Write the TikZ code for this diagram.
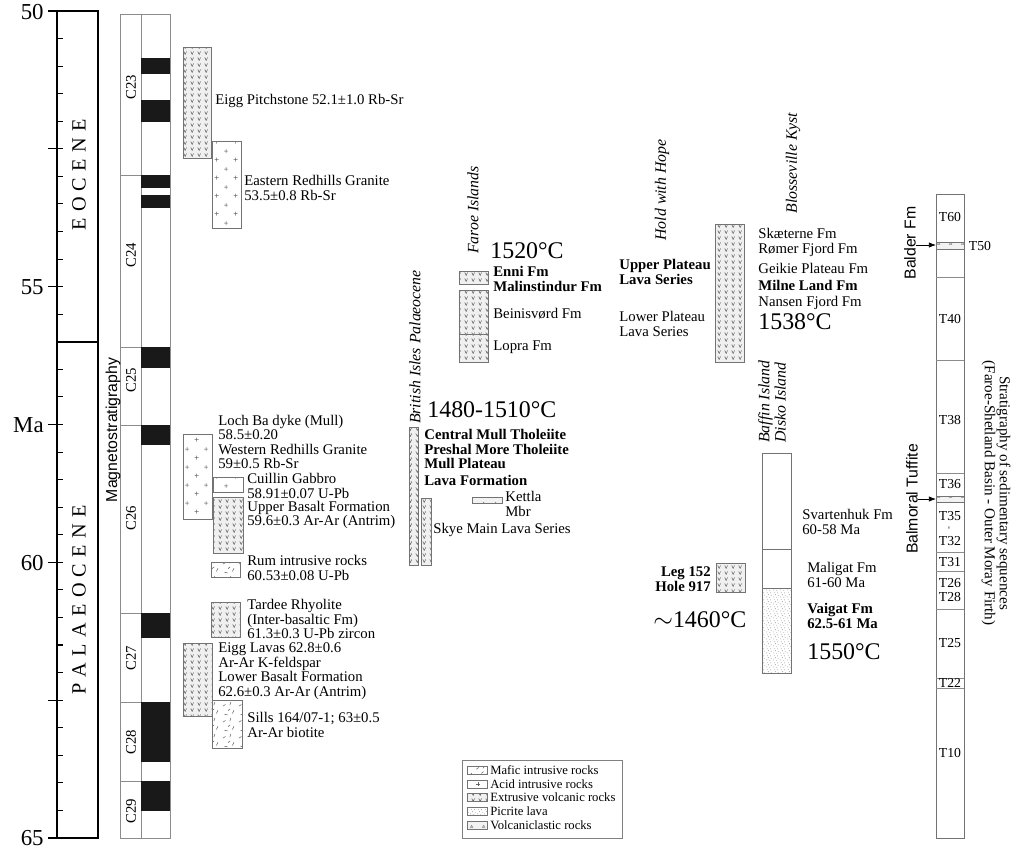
\documentclass[tikz,border=0pt]{standalone}
\usepackage{fontspec}
\setmainfont{Liberation Serif}
\setsansfont{Liberation Sans}
\usepackage{tikz}
\usetikzlibrary{patterns,arrows.meta}

% rock fill patterns
\pgfdeclarepatternformonly{volcanic}{\pgfpointorigin}{\pgfqpoint{4pt}{3.4pt}}{\pgfqpoint{4pt}{3.4pt}}{%
  \pgfsetlinewidth{0.3pt}
  \pgfpathmoveto{\pgfqpoint{1.1pt}{2.6pt}}
  \pgfpathlineto{\pgfqpoint{2pt}{0.9pt}}
  \pgfpathlineto{\pgfqpoint{2.9pt}{2.6pt}}
  \pgfusepath{stroke}}
\pgfdeclarepatternformonly{acid}{\pgfpointorigin}{\pgfqpoint{11pt}{10pt}}{\pgfqpoint{11pt}{10pt}}{%
  \pgfsetlinewidth{0.3pt}
  \pgfpathmoveto{\pgfqpoint{1.6pt}{2.5pt}}\pgfpathlineto{\pgfqpoint{3.9pt}{2.5pt}}
  \pgfpathmoveto{\pgfqpoint{2.75pt}{1.35pt}}\pgfpathlineto{\pgfqpoint{2.75pt}{3.65pt}}
  \pgfpathmoveto{\pgfqpoint{7.1pt}{7.5pt}}\pgfpathlineto{\pgfqpoint{9.4pt}{7.5pt}}
  \pgfpathmoveto{\pgfqpoint{8.25pt}{6.35pt}}\pgfpathlineto{\pgfqpoint{8.25pt}{8.65pt}}
  \pgfusepath{stroke}}
\pgfdeclarepatternformonly{mafic}{\pgfpointorigin}{\pgfqpoint{9pt}{9pt}}{\pgfqpoint{9pt}{9pt}}{%
  \pgfsetlinewidth{0.3pt}
  \pgfpathmoveto{\pgfqpoint{1pt}{1pt}}\pgfpathlineto{\pgfqpoint{2.6pt}{2pt}}
  \pgfpathmoveto{\pgfqpoint{5pt}{1.5pt}}\pgfpathlineto{\pgfqpoint{5.6pt}{3.4pt}}
  \pgfpathmoveto{\pgfqpoint{2pt}{5.5pt}}\pgfpathlineto{\pgfqpoint{3.8pt}{5.2pt}}
  \pgfpathmoveto{\pgfqpoint{6.5pt}{6pt}}\pgfpathlineto{\pgfqpoint{7.4pt}{7.8pt}}
  \pgfpathmoveto{\pgfqpoint{4pt}{7.6pt}}\pgfpathlineto{\pgfqpoint{5.2pt}{8.6pt}}
  \pgfusepath{stroke}}
\pgfdeclarepatternformonly{picrite}{\pgfpointorigin}{\pgfqpoint{4pt}{4pt}}{\pgfqpoint{4pt}{4pt}}{%
  \pgfpathcircle{\pgfqpoint{0.5pt}{0.7pt}}{0.28pt}
  \pgfpathcircle{\pgfqpoint{2.4pt}{0.4pt}}{0.25pt}
  \pgfpathcircle{\pgfqpoint{1.5pt}{2.1pt}}{0.3pt}
  \pgfpathcircle{\pgfqpoint{3.3pt}{1.7pt}}{0.25pt}
  \pgfpathcircle{\pgfqpoint{0.8pt}{3.4pt}}{0.25pt}
  \pgfpathcircle{\pgfqpoint{2.9pt}{3.3pt}}{0.28pt}
  \pgfusepath{fill}}
\pgfdeclarepatternformonly{vclastic}{\pgfpointorigin}{\pgfqpoint{7pt}{4pt}}{\pgfqpoint{7pt}{4pt}}{%
  \pgfsetlinewidth{0.3pt}
  \pgfpathmoveto{\pgfqpoint{2pt}{1pt}}\pgfpathlineto{\pgfqpoint{3.5pt}{1pt}}
  \pgfpathlineto{\pgfqpoint{2.75pt}{2.3pt}}\pgfpathclose
  \pgfusepath{stroke}}

\newcommand\gap{\kern3.6pt}

\begin{document}
\begin{tikzpicture}[x=0.02cm, y=-0.02cm,
    rock/.style={draw=black!55, line width=0.4pt},
    volcbox/.style={rock, preaction={fill=black!6}, pattern=volcanic, pattern color=black!65},
    acidbox/.style={rock, pattern=acid, pattern color=black!60},
    maficbox/.style={rock, pattern=mafic, pattern color=black!60},
    picbox/.style={rock, pattern=picrite, pattern color=black!50},
    vcbox/.style={rock, preaction={fill=black!5}, pattern=vclastic, pattern color=black!50},
    lbl/.style={anchor=west, inner sep=0pt, align=left, font=\fontsize{8.4}{8.3}\selectfont},
    blbl/.style={lbl, font=\fontsize{8.4}{8.3}\selectfont\bfseries},
    temp/.style={anchor=west, inner sep=0pt, font=\fontsize{13.6}{13.6}\selectfont},
    site/.style={rotate=90, inner sep=0pt, font=\fontsize{9}{8}\selectfont\itshape},
    chron/.style={rotate=90, inner sep=0pt, font=\fontsize{8.4}{8.4}\selectfont},
    seq/.style={inner sep=0pt, font=\fontsize{7.8}{7.8}\selectfont},
    side/.style={rotate=90, inner sep=0pt, font=\sffamily\fontsize{9}{9}\selectfont},
    axlbl/.style={anchor=east, inner sep=0pt, font=\fontsize{13}{13}\selectfont}]
    \useasboundingbox (0,0) rectangle (1013,850);
    \fill[white] (0,0) rectangle (1013,850);

    % Time axis (Ma)
    \draw[line width=0.9pt] (57,11) rectangle (98,342);
    \draw[line width=0.9pt] (57,342) rectangle (98,838);
    \foreach \m in {50,50.5,...,65}
        \draw[line width=0.6pt] (57,{11+(\m-50)*55.13}) -- (63,{11+(\m-50)*55.13});
    \foreach \m in {50,52.5,...,65}
        \draw[line width=0.6pt] (48,{11+(\m-50)*55.13}) -- (63,{11+(\m-50)*55.13});
    \node[axlbl] (a50) at (44,12) {50};
    \node[axlbl] (a55) at (44,287) {55};
    \node[axlbl] (ama) at (44,425) {Ma};
    \node[axlbl] (a60) at (44,563) {60};
    \node[axlbl] (a65) at (44,838) {65};
    \node[rotate=90, font=\fontsize{11.5}{11.5}\selectfont] (eoc) at (79,175) {E\gap O\gap C\gap E\gap N\gap E};
    \node[rotate=90, font=\fontsize{11.5}{11.5}\selectfont] (pal) at (79,600) {P\gap A\gap L\gap A\gap E\gap O\gap C\gap E\gap N\gap E};

    % Magnetostratigraphy
    \draw[black!45] (120,14) rectangle (170,838);
    \draw[black!45] (141,14) -- (141,838);
    \foreach \y in {175,347,425,613,702,781}
        \draw[black!45] (120,\y) -- (141,\y);
    \foreach \a/\b in {58/74,100/122,175/188,195/208,347/368,425/445,613/638,702/762,781/811}
        \fill[black!90] (141,\a) rectangle (170,\b);
    \foreach \n/\y in {23/87,24/255,25/380,26/518,27/658,28/742,29/811}
        \node[chron] (c\n) at (131,\y) {C\n};
    \node[side] (mag) at (113,430) {Magnetostratigraphy};

    % British Isles intrusions and lavas
    \draw[volcbox] (183,47) rectangle (211,158);
    \draw[acidbox] (212,141) rectangle (241,228);
    \node[lbl] (eiggp) at (215,101) {Eigg Pitchstone 52.1±1.0 Rb-Sr};
    \node[lbl] (erg) at (244,188) {Eastern Redhills Granite\\53.5±0.8 Rb-Sr};
    \draw[acidbox] (183,434) rectangle (212,519);
    \node[lbl] (loch) at (218,442) {Loch Ba dyke (Mull)\\58.5±0.20\\Western Redhills Granite\\59±0.5 Rb-Sr};
    \draw[acidbox] (213,477) rectangle (243,492);
    \node[lbl] (cuil) at (247,486) {Cuillin Gabbro\\58.91±0.07 U-Pb};
    \draw[volcbox] (213,497) rectangle (243,553);
    \node[lbl] (ubf) at (247,515) {Upper Basalt Formation\\59.6±0.3 Ar-Ar (Antrim)};
    \draw[maficbox] (211,562) rectangle (240,577);
    \node[lbl] (rum) at (247,568) {Rum intrusive rocks\\60.53±0.08 U-Pb};
    \draw[volcbox] (211,602) rectangle (240,637);
    \node[lbl] (tard) at (247,619) {Tardee Rhyolite\\(Inter-basaltic Fm)\\61.3±0.3 U-Pb zircon};
    \draw[volcbox] (183,643) rectangle (212,716);
    \node[lbl] (eiggl) at (218,671) {Eigg Lavas 62.8±0.6\\Ar-Ar K-feldspar\\Lower Basalt Formation\\62.6±0.3 Ar-Ar (Antrim)};
    \draw[maficbox] (212,700) rectangle (242,748);
    \node[lbl] (sills) at (247,725) {Sills 164/07-1; 63±0.5\\Ar-Ar biotite};

    % Faroe Islands
    \node[site] (faroe) at (473,210) {Faroe Islands};
    \node[temp] (t1520) at (490,251) {1520°C};
    \draw[volcbox] (459,271) rectangle (488,284);
    \node[blbl] (enni) at (493,279) {Enni Fm\\Malinstindur Fm};
    \draw[volcbox] (459,290) rectangle (488,362);
    \draw[black!55] (459,334) -- (488,334);
    \node[lbl] (bein) at (493,314) {Beinisvørd Fm};
    \node[lbl] (lopra) at (493,347) {Lopra Fm};

    % British Isles Palaeocene
    \node[site] (brit) at (415,347) {British Isles Palaeocene};
    \node[temp] (t1480) at (427,410) {1480-1510°C};
    \node[blbl] (mull) at (424,449) {Central Mull Tholeiite\\Preshal More Tholeiite\\Mull Plateau};
    \node[blbl] (lavaf) at (424,480) {Lava Formation};
    \draw[volcbox] (409,427) rectangle (418,565);
    \draw[volcbox] (421,498) rectangle (431,565);
    \draw[vcbox] (472,497) rectangle (502,503);
    \node[lbl] (kett) at (505,504) {Kettla\\Mbr};
    \node[lbl] (skye) at (433,530) {Skye Main Lava Series};

    % East Greenland
    \node[site] (hwh) at (662,190) {Hold with Hope};
    \node[site] (blos) at (793,163) {Blosseville Kyst};
    \draw[volcbox] (715,224) rectangle (744,362);
    \node[blbl] (upl) at (619,272) {Upper Plateau\\Lava Series};
    \node[lbl] (lpl) at (619,324) {Lower Plateau\\Lava Series};
    \node[lbl] (skae) at (758,233) {Skæterne Fm};
    \node[lbl] (romer) at (758,250) {Rømer Fjord Fm};
    \node[lbl] (geik) at (758,268) {Geikie Plateau Fm};
    \node[blbl] (milne) at (758,285) {Milne Land Fm};
    \node[lbl] (nans) at (758,303) {Nansen Fjord Fm};
    \node[temp] (t1538) at (758,322) {1538°C};

    % Baffin Island / Disko Island
    \node[site, anchor=west, align=left] (baff) at (772,443) {Baffin Island\\Disko Island};
    \draw[rock] (762,453) rectangle (791,673);
    \draw[rock] (762,549) -- (791,549);
    \draw[picbox] (762,588) rectangle (791,673);
    \node[lbl] (svart) at (802,522) {Svartenhuk Fm\\60-58 Ma};
    \node[lbl] (malig) at (807,575) {Maligat Fm\\61-60 Ma};
    \node[blbl] (vaig) at (807,616) {Vaigat Fm\\62.5-61 Ma};
    \node[temp] (t1550) at (807,652) {1550°C};

    % ODP Leg 152
    \node[blbl, anchor=east, align=right] (leg152) at (711,579) {Leg 152\\Hole 917};
    \draw[volcbox] (716,563) rectangle (745,592);
    \node[temp] (t1460) at (653,620) {$\sim$1460°C};

    % Sedimentary sequences
    \draw[rock] (936,194) rectangle (964,838);
    \draw[vcbox] (936,242) rectangle (964,249);
    \draw[vcbox] (936,496) rectangle (964,502);
    \foreach \y in {277,360,473,552,571,609,678,688}
        \draw[black!45] (936,\y) -- (964,\y);
    \foreach \n/\y [count=\i] in {T60/217,T40/319,T38/420,T36/484,T35/516,T32/541,T31/562,T26/583,T28/597,T25/643,T22/683,T10/753}
        \node[seq] (seq\i) at (950,\y) {\n};
    \node[seq, rotate=90, font=\fontsize{5}{5}\selectfont] (dash) at (950,528.5) {-};
    \node[seq] (t50) at (980,246) {T50};
    \coordinate (bald) at (936,245);
    \coordinate (balm) at (936,499);
    \node[side] (balder) at (910,243) {Balder Fm};
    \node[side] (balmoral) at (912,499) {Balmoral Tuffite};
    \draw[-{Latex[length=4pt,width=3pt]}] (balder.south |- bald) -- (bald);
    \draw[-{Latex[length=4pt,width=3pt]}] (balmoral.south |- balm) -- (balm);
    \node[rotate=-90, align=center, inner sep=0pt, font=\fontsize{8.6}{8.5}\selectfont] (strat) at (996,493) {Stratigraphy of sedimentary sequences\\(Faroe-Shetland Basin - Outer Moray Firth)};

    % Legend
    \draw[black!50] (462,760) rectangle (622,838);
    \foreach \s/\txt [count=\i] in {maficbox/Mafic intrusive rocks,acidbox/Acid intrusive rocks,volcbox/Extrusive volcanic rocks,picbox/Picrite lava,vcbox/Volcaniclastic rocks}{
        \pgfmathsetmacro\yy{756.5+13.7*\i}
        \draw[\s] (467,\yy-4) rectangle (487,\yy+4);
        \node[anchor=west, inner sep=0pt, font=\fontsize{7.2}{7.2}\selectfont] (key\i) at (490,\yy) {\txt};
    }
\end{tikzpicture}
\end{document}
